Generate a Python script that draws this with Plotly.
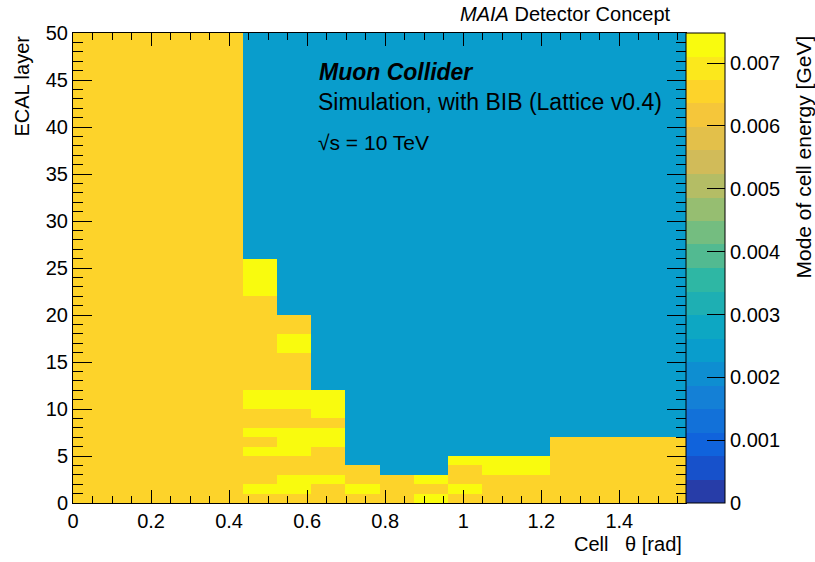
import numpy as np
import plotly.graph_objects as go

# ---------------- data ----------------
# Cell theta bins: 18 bins of width pi/36 spanning 0 .. pi/2
n_theta_bins = 18
theta_max = np.pi / 2
# ECAL layers 0..49
n_layers = 50

# Mode of cell energy [GeV] for each colour class seen in the picture
mode_values = {"O": 0.0065, "Y": 0.0073, "B": 0.0024}

# one string per theta bin, one character per layer (layer 0 first)
columns = [
    "O" * 50,                                                   # bin 0
    "O" * 50,                                                   # bin 1
    "O" * 50,                                                   # bin 2
    "O" * 50,                                                   # bin 3
    "O" * 50,                                                   # bin 4
    "OYOOOYOYOOYY" + "O" * 10 + "YYYY" + "B" * 24,              # bin 5
    "OYYOOYYYOOYY" + "OOOO" + "YY" + "OO" + "B" * 30,           # bin 6
    "OOYOOOYYOYYY" + "B" * 38,                                  # bin 7
    "OYOO" + "B" * 46,                                          # bin 8
    "OOO" + "B" * 47,                                           # bin 9
    "YOY" + "B" * 47,                                           # bin 10
    "OYOOY" + "B" * 45,                                         # bin 11
    "OOOYY" + "B" * 45,                                         # bin 12
    "OOOYY" + "B" * 45,                                         # bin 13
    "O" * 7 + "B" * 43,                                         # bin 14
    "O" * 7 + "B" * 43,                                         # bin 15
    "O" * 7 + "B" * 43,                                         # bin 16
    "O" * 7 + "B" * 43,                                         # bin 17
]

z_min, z_max = 0.0, 0.00748
cbar_tickvals = [0, 0.001, 0.002, 0.003, 0.004, 0.005, 0.006, 0.007]
cbar_ticktext = ["0", "0.001", "0.002", "0.003", "0.004", "0.005", "0.006", "0.007"]
x_tickvals = [0, 0.2, 0.4, 0.6, 0.8, 1.0, 1.2, 1.4]
x_ticktext = ["0", "0.2", "0.4", "0.6", "0.8", "1", "1.2", "1.4"]
y_tickvals = [0, 5, 10, 15, 20, 25, 30, 35, 40, 45, 50]

# ---------------- build grid ----------------
x_edges = np.linspace(0, theta_max, n_theta_bins + 1)
y_edges = np.arange(n_layers + 1)
z = np.array([[mode_values[c] for c in col] for col in columns]).T  # (layers, bins)

# ---------------- ROOT kBird palette, 20 contour bands ----------------
stops = [0.0, 0.125, 0.25, 0.375, 0.5, 0.625, 0.75, 0.875, 1.0]
red = [0.2082, 0.0592, 0.0780, 0.0232, 0.1802, 0.5301, 0.8186, 0.9956, 0.9764]
green = [0.1664, 0.3599, 0.5041, 0.6419, 0.7178, 0.7492, 0.7328, 0.7862, 0.9832]
blue = [0.5293, 0.8684, 0.8385, 0.7914, 0.6425, 0.4662, 0.3499, 0.1968, 0.0539]
n_bands = 20
n_cols = 255
colorscale = []
for i in range(n_bands):
    idx = int((i + 0.99) * n_cols / n_bands)
    f = min(idx, n_cols - 1) / (n_cols - 1)
    r = int(round(np.interp(f, stops, red) * 255))
    g = int(round(np.interp(f, stops, green) * 255))
    b = int(round(np.interp(f, stops, blue) * 255))
    col = f"rgb({r},{g},{b})"
    colorscale.append([i / n_bands, col])
    colorscale.append([(i + 1) / n_bands, col])

FONT = "Liberation Sans, Arial, Helvetica, sans-serif"

fig = go.Figure(
    go.Heatmap(
        x=x_edges,
        y=y_edges,
        z=z,
        zmin=z_min,
        zmax=z_max,
        colorscale=colorscale,
        hoverinfo="skip",
        colorbar=dict(
            x=1.0, xanchor="left", xpad=0,
            y=0.5, yanchor="middle", ypad=0,
            len=1.0, lenmode="fraction",
            thickness=39, thicknessmode="pixels",
            outlinewidth=1, outlinecolor="black",
            ticks="inside", ticklen=18, tickwidth=1, tickcolor="black",
            tickvals=cbar_tickvals, ticktext=cbar_ticktext,
            tickfont=dict(family=FONT, size=20, color="black"),
        ),
    )
)

W, H = 815, 562
L, R, T, B = 73, 815 - 686, 33, 562 - 503

axis_common = dict(
    ticks="inside", tickwidth=1, tickcolor="black",
    showline=True, linecolor="black", linewidth=1, mirror="ticks",
    showgrid=False, zeroline=False,
    tickfont=dict(family=FONT, size=20, color="black"),
)

fig.update_xaxes(
    range=[0, theta_max], tickvals=x_tickvals, ticktext=x_ticktext, ticklen=13,
    minor=dict(dtick=0.05, tick0=0, ticklen=7, ticks="inside", tickcolor="black", tickwidth=1, showgrid=False),
    **axis_common,
)
fig.update_yaxes(
    range=[0, 50], tickvals=y_tickvals, ticklen=19,
    minor=dict(dtick=1, tick0=0, ticklen=10, ticks="inside", tickcolor="black", tickwidth=1, showgrid=False),
    **axis_common,
)

PW, PH = W - L - R, H - T - B


def px(xp):
    return (xp - L) / PW


def py(yp):
    return (H - B - yp) / PH


annotations = [
    dict(text="<b><i>Muon Collider</i></b>", x=px(317), y=py(72), xanchor="left", yanchor="middle",
         font=dict(family=FONT, size=23, color="black")),
    dict(text="Simulation, with BIB (Lattice v0.4)", x=px(316), y=py(102.5), xanchor="left", yanchor="middle",
         font=dict(family=FONT, size=23, color="black")),
    dict(text="√s = 10 TeV", x=px(316), y=py(142.5), xanchor="left", yanchor="middle",
         font=dict(family=FONT, size=21, color="black")),
    dict(text="<i>MAIA</i> Detector Concept", x=px(673), y=py(14), xanchor="right", yanchor="middle",
         font=dict(family=FONT, size=20, color="black")),
    dict(text="Cell   θ [rad]", x=px(684), y=py(543.7), xanchor="right", yanchor="middle",
         font=dict(family=FONT, size=20, color="black")),
    dict(text="ECAL layer", x=px(22), y=py(34), xanchor="center", yanchor="top", textangle=-90,
         font=dict(family=FONT, size=20, color="black")),
    dict(text="Mode of cell energy [GeV]", x=px(803), y=py(33), xanchor="center", yanchor="top", textangle=-90,
         font=dict(family=FONT, size=21, color="black")),
]
for a in annotations:
    a.update(xref="paper", yref="paper", showarrow=False)

fig.update_layout(
    width=W, height=H,
    margin=dict(l=L, r=R, t=T, b=B, pad=0),
    paper_bgcolor="white", plot_bgcolor="white",
    font=dict(family=FONT, color="black"),
    annotations=annotations,
    showlegend=False,
)

fig.write_html("out.html", config={"displayModeBar": False, "staticPlot": True})

# remove the browser's default 8px page margin so the figure sits at (0, 0)
with open("out.html", "r", encoding="utf-8") as fh:
    html = fh.read()
html = html.replace("<head>", "<head><style>html,body{margin:0;padding:0;overflow:hidden;}</style>", 1)
with open("out.html", "w", encoding="utf-8") as fh:
    fh.write(html)
